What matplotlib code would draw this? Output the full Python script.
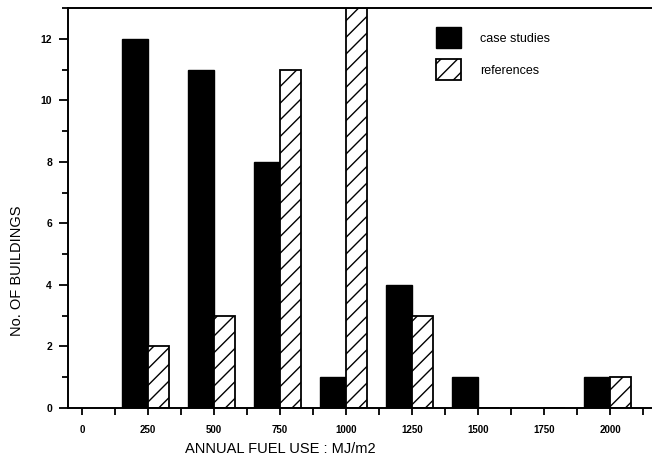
import matplotlib
matplotlib.use("Agg")
import matplotlib.pyplot as plt
import numpy as np
from matplotlib.ticker import MultipleLocator

plt.rcParams['font.family'] = ['Liberation Sans', 'DejaVu Sans']

fuel_use = [250, 500, 750, 1000, 1250, 1500, 1750, 2000]
case_studies = [12, 11, 8, 1, 4, 1, 0, 1]
references = [2, 3, 11, 13, 3, 0, 0, 1]
x_ticks = [0, 250, 500, 750, 1000, 1250, 1500, 1750, 2000]

fig = plt.figure(figsize=(6.52, 4.59), dpi=100)
ax = fig.add_axes([68 / 652, 51 / 459, 584 / 652, 400 / 459])

x = np.array(fuel_use)
# black bars end at the tick, hatched bars start at it
ax.bar(x, case_studies, width=-98, align='edge', color='black',
       edgecolor='black', linewidth=1, label='case studies')
ax.bar(x, references, width=80, align='edge', color='white',
       edgecolor='black', linewidth=1.3, hatch='//', label='references')

ax.set_xlim(-53, 2159)
ax.set_ylim(0, 13)

ax.spines['right'].set_visible(False)
for s in ['left', 'bottom', 'top']:
    ax.spines[s].set_linewidth(1.4)

ax.set_xticks(x_ticks)
ax.set_xticklabels([str(v) for v in x_ticks])
ax.xaxis.set_minor_locator(MultipleLocator(125))
ax.yaxis.set_major_locator(MultipleLocator(2))
ax.yaxis.set_minor_locator(MultipleLocator(1))
ax.tick_params(axis='x', which='both', direction='out', length=5, width=1.3,
               labelsize=7, pad=7)
ax.tick_params(axis='y', which='major', direction='out', length=6.5, width=1.3,
               labelsize=7.5, pad=5)
ax.tick_params(axis='y', which='minor', direction='out', length=4, width=1.3)
for lbl in ax.get_xticklabels() + ax.get_yticklabels():
    lbl.set_fontweight('bold')

ax.set_xlabel('ANNUAL FUEL USE : MJ/m2', fontsize=10.5)
ax.xaxis.set_label_coords((280 - 68) / 584, -0.085)
ax.set_ylabel('No. OF BUILDINGS', fontsize=10.5)
ax.yaxis.set_label_coords(-0.075, (408 - 271) / 400)

ax.legend(loc='upper left', bbox_to_anchor=((425 - 68) / 584, 0.98),
          frameon=False, fontsize=9, handlelength=2.0, handleheight=2.2,
          handletextpad=1.5, labelspacing=0.9)

plt.savefig('out.png', dpi=100)
